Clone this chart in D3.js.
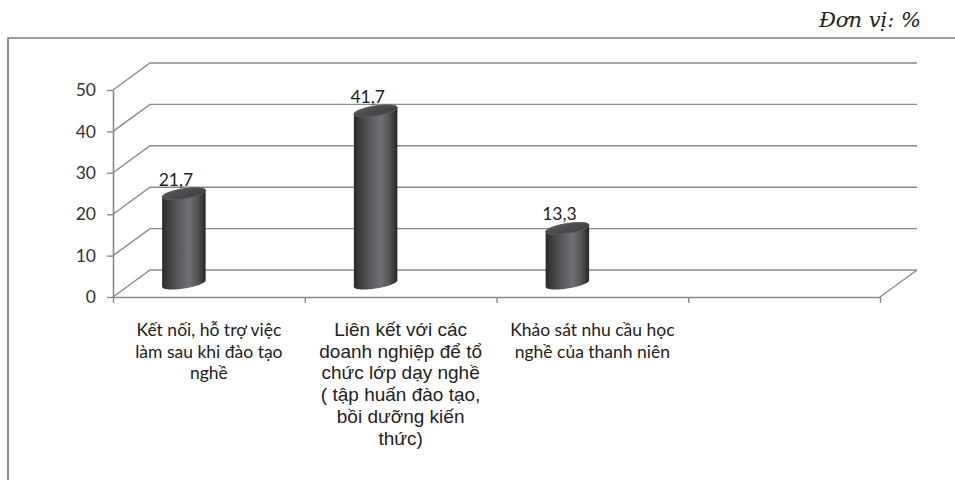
<!DOCTYPE html>
<html>
<head>
<meta charset="utf-8">
<script src="https://cdn.jsdelivr.net/npm/d3@7"></script>
<style>
  body { margin: 0; background: #fff; }
  svg { display: block; }
</style>
</head>
<body>
<svg id="chart" width="955" height="480"></svg>
<script>
// Category labels, one array of wrapped lines per category (the fourth slot is empty)
const categories = [
  ["Kết nối, hỗ trợ việc", "làm sau khi đào tạo", "nghề"],
  ["Liên kết với các", "doanh nghiệp để tổ", "chức lớp dạy nghề", "( tập huấn đào tạo,", "bồi dưỡng kiến", "thức)"],
  ["Khảo sát nhu cầu học", "nghề của thanh niên"],
  []
];
const values = [21.7, 41.7, 13.3, null];
const valueLabels = ["21,7", "41,7", "13,3", ""];
const yTicks = [0, 10, 20, 30, 40, 50];
const unitLabel = "Đơn vị: %";

const svg = d3.select("#chart");
const calibriLike = "Lato, 'Open Sans', sans-serif";
const arialLike = "'Liberation Sans', Arial, sans-serif";
const gridColor = "#8a8a8a";

// Outer frame
svg.append("path")
  .attr("d", "M8,480 L8,38 L955,38")
  .attr("fill", "none").attr("stroke", "#7a7a7a").attr("stroke-width", 1.6);

svg.append("text")
  .attr("x", 921).attr("y", 27)
  .attr("text-anchor", "end")
  .attr("font-family", "'DejaVu Serif', 'Liberation Serif', serif")
  .attr("font-style", "italic")
  .attr("font-size", 21)
  .attr("fill", "#222")
  .text(unitLabel);

// Scales: front plane of the 3-D box
const x = d3.scaleBand().domain(d3.range(categories.length)).range([113, 880]);
const y = d3.scaleLinear().domain([0, 50]).range([297, 90]);
const depth = { dx: 37, dy: -27 };

// Side wall diagonals + back wall grid lines
const walls = svg.append("g").attr("fill", "none").attr("stroke", gridColor).attr("stroke-width", 1.4);
yTicks.forEach(t => {
  const yf = y(t), yb = y(t) + depth.dy;
  walls.append("path")
    .attr("d", `M${x.range()[0]},${yf} L${x.range()[0] + depth.dx},${yb} L${x.range()[1] + depth.dx},${yb}`);
});
// Floor right edge
walls.append("path")
  .attr("d", `M${x.range()[1]},${y(0)} L${x.range()[1] + depth.dx},${y(0) + depth.dy}`);

// Value axis
const yAxis = svg.append("g")
  .attr("transform", `translate(${x.range()[0]},0)`)
  .call(d3.axisLeft(y).tickValues(yTicks).tickSize(6).tickSizeOuter(0).tickPadding(11).tickFormat(d3.format("d")));
yAxis.select(".domain").attr("stroke", gridColor).attr("stroke-width", 1.6);
yAxis.selectAll(".tick line").attr("stroke", gridColor).attr("stroke-width", 1.4);
yAxis.selectAll(".tick text")
  .attr("font-family", calibriLike).attr("font-size", 17.5).attr("fill", "#333");

// Category axis: ticks sit on the band boundaries
const edge = d3.scaleLinear().domain([0, categories.length]).range(x.range());
const xAxis = svg.append("g")
  .attr("transform", `translate(0,${y(0)})`)
  .call(d3.axisBottom(edge).ticks(categories.length).tickSize(6).tickSizeOuter(0).tickFormat(""));
xAxis.select(".domain").attr("stroke", gridColor).attr("stroke-width", 1.6);
xAxis.selectAll(".tick line").attr("stroke", gridColor).attr("stroke-width", 1.4);

// Category labels
const labelFonts = [
  { family: calibriLike, size: 17.5 },
  { family: arialLike, size: 19 },
  { family: calibriLike, size: 17.5 },
  { family: calibriLike, size: 17.5 }
];
categories.forEach((lines, i) => {
  const t = svg.append("text")
    .attr("text-anchor", "middle")
    .attr("font-family", labelFonts[i].family)
    .attr("font-size", labelFonts[i].size)
    .attr("fill", "#222");
  lines.forEach((ln, k) => {
    t.append("tspan")
      .attr("x", x(i) + x.bandwidth() / 2)
      .attr("y", 336 + k * 21.7)
      .text(ln);
  });
});

// Cylinder gradients
const defs = svg.append("defs");
const bodyGrad = defs.append("linearGradient").attr("id", "cylBody").attr("x1", 0).attr("x2", 1).attr("y1", 0).attr("y2", 0);
[[0, "#282828"], [0.12, "#3c3c3e"], [0.4, "#5c5c60"], [0.62, "#707074"], [0.82, "#545457"], [1, "#262626"]]
  .forEach(([o, c]) => bodyGrad.append("stop").attr("offset", o).attr("stop-color", c));
const topGrad = defs.append("linearGradient").attr("id", "cylTop").attr("x1", 0).attr("x2", 1).attr("y1", 0).attr("y2", 1);
[[0, "#5a5a5c"], [0.5, "#4a4a4c"], [1, "#3c3c3e"]]
  .forEach(([o, c]) => topGrad.append("stop").attr("offset", o).attr("stop-color", c));

// Cylinder geometry
const rx = 22, ry = 5, tilt = -9 * Math.PI / 180;
const barShift = -25;
function ellipsePoint(cx, cy, t) {
  const ex = rx * Math.cos(t), ey = ry * Math.sin(t);
  return [cx + ex * Math.cos(tilt) - ey * Math.sin(tilt), cy + ex * Math.sin(tilt) + ey * Math.cos(tilt)];
}
// parameter of the left/right silhouette points of the tilted ellipse
const tEdge = Math.atan2(-ry * Math.sin(tilt), rx * Math.cos(tilt));
const line = d3.line();

const bars = svg.append("g");
values.forEach((v, i) => {
  if (v == null) return;
  const cx = x(i) + x.bandwidth() / 2 + barShift;
  const yBase = y(0) + depth.dy / 2;
  const yTop = y(v) + depth.dy / 2;
  const n = 40;
  const pts = [];
  // back arc of the top ellipse, from the left silhouette over to the right one
  for (let k = 0; k <= n; k++) pts.push(ellipsePoint(cx, yTop, tEdge + Math.PI + (k / n) * Math.PI));
  // front arc of the bottom ellipse, from right back to left
  for (let k = 0; k <= n; k++) pts.push(ellipsePoint(cx, yBase, tEdge + (k / n) * Math.PI));
  bars.append("path")
    .attr("d", line(pts) + "Z")
    .attr("fill", "url(#cylBody)");
  bars.append("ellipse")
    .attr("cx", cx).attr("cy", yTop).attr("rx", rx).attr("ry", ry)
    .attr("transform", `rotate(${tilt * 180 / Math.PI},${cx},${yTop})`)
    .attr("fill", "url(#cylTop)")
    .attr("stroke", "#5e5e60").attr("stroke-width", 0.8);

  svg.append("text")
    .attr("x", cx - 8).attr("y", yTop - 8)
    .attr("text-anchor", "middle")
    .attr("font-family", calibriLike).attr("font-size", 17.5)
    .attr("fill", "#222")
    .text(valueLabels[i]);
});
</script>
</body>
</html>
